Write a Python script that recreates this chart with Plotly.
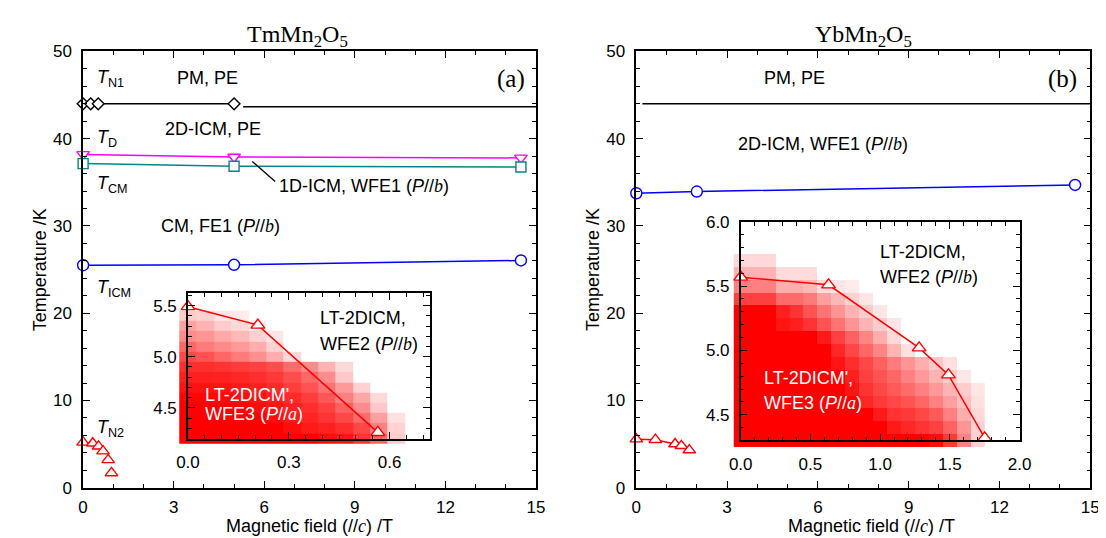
import plotly.graph_objects as go

W, H = 1106, 538

# ---------------- data ----------------
# TmMn2O5 main panel
tm_tn1_field = [0.0, 0.25, 0.5, 5.0]
tm_tn1_temp = [44.0, 44.0, 44.0, 44.0]
tm_tn1_high_field = [5.3, 15.0]
tm_tn1_high_temp = [43.65, 43.65]
tm_td_field = [0.0, 5.0, 14.5]
tm_td_temp = [38.2, 37.9, 37.8]
tm_tcm_field = [0.0, 5.0, 14.5]
tm_tcm_temp = [37.15, 36.85, 36.75]
tm_ticm_field = [0.0, 5.0, 14.5]
tm_ticm_temp = [25.5, 25.55, 26.05]
tm_tn2_field = [0.0, 0.32, 0.51, 0.66, 0.83, 0.94]
tm_tn2_temp = [5.2, 5.1, 4.75, 4.2, 3.2, 1.7]

# TmMn2O5 inset
tm_in_field = [0.0, 0.208, 0.565]
tm_in_temp = [5.49, 5.31, 4.26]
tm_map_field = [0.0, 0.052, 0.103, 0.155, 0.207, 0.258, 0.31, 0.362, 0.413, 0.465, 0.517, 0.568, 0.62]
tm_map_temp = [4.2, 4.3, 4.4, 4.5, 4.6, 4.7, 4.8, 4.9, 5.0, 5.1, 5.2, 5.3, 5.4]
N = None
tm_map_level = [
    [1.0, 1.0, 1.0, 1.0, 1.0, 1.0, 1.0, 1.0, 0.95, 0.92, 0.8, 0.6, 0.2],
    [1.0, 1.0, 1.0, 1.0, 1.0, 1.0, 0.95, 0.9, 0.87, 0.82, 0.72, 0.5, 0.18],
    [1.0, 1.0, 1.0, 1.0, 1.0, 0.95, 0.9, 0.86, 0.8, 0.72, 0.58, 0.38, 0.12],
    [1.0, 1.0, 1.0, 1.0, 0.95, 0.92, 0.87, 0.82, 0.75, 0.62, 0.45, 0.22, N],
    [0.98, 0.98, 0.97, 0.95, 0.92, 0.88, 0.83, 0.76, 0.66, 0.5, 0.35, 0.15, N],
    [0.93, 0.93, 0.92, 0.9, 0.87, 0.83, 0.76, 0.68, 0.55, 0.4, 0.18, N, N],
    [0.88, 0.88, 0.87, 0.85, 0.82, 0.78, 0.7, 0.6, 0.45, 0.22, N, N, N],
    [0.82, 0.82, 0.8, 0.77, 0.75, 0.7, 0.58, 0.45, 0.3, 0.15, N, N, N],
    [0.72, 0.68, 0.6, 0.52, 0.44, 0.32, 0.15, N, N, N, N, N, N],
    [0.6, 0.52, 0.46, 0.4, 0.32, 0.18, N, N, N, N, N, N, N],
    [0.45, 0.42, 0.34, 0.28, 0.18, 0.1, N, N, N, N, N, N, N],
    [0.37, 0.3, 0.2, 0.15, 0.08, N, N, N, N, N, N, N, N],
    [0.2, 0.18, 0.1, 0.08, N, N, N, N, N, N, N, N, N],
]

# YbMn2O5 main panel
yb_tn1_field = [0.2, 15.0]
yb_tn1_temp = [44.0, 44.0]
yb_ticm_field = [0.0, 2.0, 14.5]
yb_ticm_temp = [33.75, 33.95, 34.7]
yb_tn2_field = [0.0, 0.63, 1.28, 1.49, 1.75]
yb_tn2_temp = [5.57, 5.51, 5.02, 4.81, 4.32]

# YbMn2O5 inset
yb_map_field = [0.0, 0.1, 0.2, 0.3, 0.4, 0.5, 0.6, 0.7, 0.8, 0.9, 1.0, 1.1, 1.2, 1.3, 1.4, 1.5, 1.6, 1.7]
yb_map_temp = [4.3, 4.4, 4.5, 4.6, 4.7, 4.8, 4.9, 5.0, 5.1, 5.2, 5.3, 5.4, 5.5, 5.6, 5.7]
yb_map_level = [
    [1, 1, 1, 1, 1, 1, 1, 1, 1, 1, 1, 1, 1, 1, 0.95, 0.78, 0.5, 0.18],
    [1, 1, 1, 1, 1, 1, 1, 1, 1, 1, 1, 0.9, 0.85, 0.8, 0.75, 0.62, 0.42, 0.18],
    [1, 1, 1, 1, 1, 1, 1, 1, 1, 1, 0.9, 0.8, 0.78, 0.72, 0.65, 0.5, 0.32, 0.15],
    [1, 1, 1, 1, 1, 1, 1, 1, 1, 0.85, 0.78, 0.72, 0.68, 0.6, 0.5, 0.38, 0.25, 0.12],
    [1, 1, 1, 1, 1, 1, 1, 1, 0.92, 0.8, 0.72, 0.65, 0.58, 0.5, 0.4, 0.3, 0.2, 0.1],
    [1, 1, 1, 1, 1, 1, 1, 1, 0.88, 0.75, 0.68, 0.6, 0.5, 0.4, 0.3, 0.2, 0.1, N],
    [1, 1, 1, 1, 1, 1, 1, 0.92, 0.82, 0.72, 0.62, 0.52, 0.42, 0.32, 0.22, 0.12, N, N],
    [1, 1, 1, 1, 1, 1, 1, 0.85, 0.72, 0.6, 0.48, 0.3, 0.12, N, N, N, N, N],
    [1, 1, 1, 1, 1, 1, 0.9, 0.75, 0.62, 0.48, 0.32, 0.15, N, N, N, N, N, N],
    [1, 1, 1, 0.92, 0.88, 0.8, 0.68, 0.55, 0.42, 0.3, 0.2, 0.1, N, N, N, N, N, N],
    [1, 1, 1, 0.88, 0.8, 0.68, 0.55, 0.42, 0.3, 0.2, 0.1, N, N, N, N, N, N, N],
    [0.75, 0.75, 0.75, 0.58, 0.58, 0.52, 0.38, 0.28, 0.18, 0.1, N, N, N, N, N, N, N, N],
    [0.5, 0.5, 0.5, 0.32, 0.32, 0.28, 0.14, 0.1, 0.08, N, N, N, N, N, N, N, N, N],
    [0.3, 0.3, 0.3, 0.14, 0.14, 0.14, N, N, N, N, N, N, N, N, N, N, N, N],
    [0.15, 0.15, 0.15, N, N, N, N, N, N, N, N, N, N, N, N, N, N, N],
]

# leader line of the "1D-ICM" label (field, temperature)
leader_field = [5.6, 6.36]
leader_temp = [37.4, 35.1]

# ---------------- helpers ----------------
def fx(p):
    return p / W

def fy(p):
    return 1 - p / H

SANS = "Liberation Sans"
SERIF = "Liberation Serif"
BLACK = "black"
TEAL = "#00868B"
MAGENTA = "#FF00FF"
BLUE = "#0000FF"
RED = "#FF0000"

fig = go.Figure()

def add_scatter(x, y, color, symbol, size, xa, ya, mode="lines+markers", lw=1.5):
    fig.add_trace(go.Scatter(
        x=x, y=y, mode=mode, xaxis=xa, yaxis=ya, cliponaxis=False,
        line=dict(color=color, width=lw),
        marker=dict(symbol=symbol, size=size, color="white",
                    line=dict(color=color, width=1.4)),
        showlegend=False, hoverinfo="skip"))

# heatmaps first (hidden axes, slightly larger than the inset frames)
scale = [[0, "#FFFFFF"], [1, "#FF0000"]]
fig.add_trace(go.Heatmap(x=tm_map_field, y=tm_map_temp, z=tm_map_level,
                         colorscale=scale, zmin=0, zmax=1, showscale=False,
                         xaxis="x3", yaxis="y3", hoverinfo="skip"))
fig.add_trace(go.Heatmap(x=yb_map_field, y=yb_map_temp, z=yb_map_level,
                         colorscale=scale, zmin=0, zmax=1, showscale=False,
                         xaxis="x4", yaxis="y4", hoverinfo="skip"))

# left main
add_scatter(tm_tn1_field, tm_tn1_temp, BLACK, "diamond", 9, "x", "y")
add_scatter(tm_tn1_high_field, tm_tn1_high_temp, BLACK, "circle", 1, "x", "y", mode="lines")
add_scatter(tm_td_field, tm_td_temp, MAGENTA, "triangle-down", 11, "x", "y")
add_scatter(tm_tcm_field, tm_tcm_temp, TEAL, "square", 10, "x", "y")
add_scatter(tm_ticm_field, tm_ticm_temp, BLUE, "circle", 11, "x", "y")
add_scatter(tm_tn2_field, tm_tn2_temp, RED, "triangle-up", 11, "x", "y", mode="markers")
add_scatter(leader_field, leader_temp, BLACK, "circle", 1, "x", "y", mode="lines", lw=1.3)

# right main
add_scatter(yb_tn1_field, yb_tn1_temp, BLACK, "circle", 1, "x2", "y2", mode="lines")
add_scatter(yb_ticm_field, yb_ticm_temp, BLUE, "circle", 11, "x2", "y2")
add_scatter(yb_tn2_field, yb_tn2_temp, RED, "triangle-up", 11, "x2", "y2")

# insets
add_scatter(tm_in_field, tm_in_temp, RED, "triangle-up", 12, "x5", "y5")
add_scatter(yb_tn2_field, yb_tn2_temp, RED, "triangle-up", 12, "x6", "y6")

# ---------------- axes ----------------
tickfont = dict(family=SANS, size=17, color=BLACK)

def axis(domain, rng, dtick, minor, anchor, fmt=None, standoff=4):
    d = dict(domain=domain, range=rng, dtick=dtick, tick0=0, anchor=anchor,
             showline=True, linecolor=BLACK, linewidth=1.5, mirror="allticks",
             ticks="inside", ticklen=7, tickwidth=1.2, tickcolor=BLACK,
             minor=dict(dtick=minor, ticks="inside", ticklen=4, tickwidth=1.2, tickcolor=BLACK),
             showgrid=False, zeroline=False, tickfont=tickfont,
             ticklabelstandoff=standoff, fixedrange=True)
    if fmt:
        d["tickformat"] = fmt
    return d

main_y = [fy(488), fy(35.7)]
left_x = [fx(64.5), fx(527.5)]
right_x = [fx(630), fx(1094)]

# inset frames (pixels)
L_x0, L_x1, L_y0, L_y1 = 171.7, 419.0, 286.5, 437.0
L_xr, L_yr = [0.0, 0.72], [4.2, 5.62]
R_x0, R_x1, R_y0, R_y1 = 736.7, 1021.7, 212.3, 439.0
R_xr, R_yr = [0.0, 2.0001], [4.3, 6.0001]

def extend(p_lo_new, p_lo, p_hi, r):
    per = (p_hi - p_lo) / (r[1] - r[0])
    return r[0] - (p_lo - p_lo_new) / per

hx3_lo = extend(160.0, L_x0, L_x1, L_xr)
hy3_lo = L_yr[0] - (446.0 - L_y1) * (L_yr[1] - L_yr[0]) / (L_y1 - L_y0)
hx4_lo = extend(725.0, R_x0, R_x1, R_xr)
hy4_lo = R_yr[0] - (448.0 - R_y1) * (R_yr[1] - R_yr[0]) / (R_y1 - R_y0)

hidden = dict(visible=False, showgrid=False, zeroline=False, fixedrange=True)

fig.update_layout(
    width=W, height=H,
    margin=dict(l=0, r=0, t=0, b=0),
    paper_bgcolor="white", plot_bgcolor="rgba(0,0,0,0)",
    xaxis=axis(left_x, [0, 15.001], 3, 1, "y", standoff=3),
    yaxis=axis(main_y, [0, 50.001], 10, 2, "x", standoff=6),
    xaxis2=axis(right_x, [0, 15.001], 3, 1, "y2", standoff=3),
    yaxis2=axis(main_y, [0, 50.001], 10, 2, "x2", standoff=6),
    xaxis3=dict(hidden, domain=[fx(160.0), fx(L_x1)], range=[hx3_lo, L_xr[1]], anchor="y3"),
    yaxis3=dict(hidden, domain=[fy(446.0), fy(L_y0)], range=[hy3_lo, L_yr[1]], anchor="x3"),
    xaxis4=dict(hidden, domain=[fx(725.0), fx(R_x1)], range=[hx4_lo, R_xr[1]], anchor="y4"),
    yaxis4=dict(hidden, domain=[fy(448.0), fy(R_y0)], range=[hy4_lo, R_yr[1]], anchor="x4"),
    xaxis5=axis([fx(L_x0), fx(L_x1)], L_xr, 0.3, 0.05, "y5", ".1f", standoff=7),
    yaxis5=axis([fy(L_y1), fy(L_y0)], L_yr, 0.5, 0.1, "x5", ".1f", standoff=6),
    xaxis6=axis([fx(R_x0), fx(R_x1)], R_xr, 0.5, 0.1, "y6", ".1f", standoff=7),
    yaxis6=axis([fy(R_y1), fy(R_y0)], R_yr, 0.5, 0.1, "x6", ".1f", standoff=6),
)

# ---------------- text ----------------
ann = []

def text(t, x, y, size=18, xanchor="center", yanchor="middle", color=BLACK, family=SANS, angle=0):
    ann.append(dict(text=t, x=fx(x), y=fy(y), xref="paper", yref="paper",
                    showarrow=False, xanchor=xanchor, yanchor=yanchor, textangle=angle,
                    font=dict(family=family, size=size, color=color)))

ib = "<i><span style='font-family:Liberation Serif'>b</span></i>"
ia = "<i><span style='font-family:Liberation Serif'>a</span></i>"
ic = "<i><span style='font-family:Liberation Serif'>c</span></i>"

# titles
text("TmMn<sub>2</sub>O<sub>5</sub>", 284, 20, size=24, family=SERIF)
text("YbMn<sub>2</sub>O<sub>5</sub>", 862, 20, size=24, family=SERIF)
text("(a)", 502, 64, size=25, family=SERIF)
text("(b)", 1066, 64, size=25, family=SERIF)

# axis titles
text("Magnetic field (//" + ic + ") /T", 296, 528, size=18)
text("Magnetic field (//" + ic + ") /T", 870, 528, size=18)
text("Temperature /K", 20, 262, size=18, angle=-90)
text("Temperature /K", 585, 262, size=18, angle=-90)

# left panel labels
text("<i>T</i><sub>N1</sub>", 77, 64, xanchor="left")
text("<i>T</i><sub>D</sub>", 77, 126, xanchor="left")
text("<i>T</i><sub>CM</sub>", 77, 174, xanchor="left")
text("<i>T</i><sub>ICM</sub>", 77, 281, xanchor="left")
text("<i>T</i><sub>N2</sub>", 77, 427, xanchor="left")
text("PM, PE", 192, 63)
text("2D-ICM, PE", 197, 116)
text("1D-ICM, WFE1 (<i>P</i>//" + ib + ")", 263, 175, xanchor="left")
text("CM, FE1 (<i>P</i>//" + ib + ")", 142, 217, xanchor="left")
text("LT-2DICM,", 305, 312, xanchor="left")
text("WFE2 (<i>P</i>//" + ib + ")", 305, 339, xanchor="left")
text("LT-2DICM',", 187, 392, xanchor="left", color="white")
text("WFE3 (<i>P</i>//" + ia + ")", 187, 412, xanchor="left", color="white")

# right panel labels
text("PM, PE", 792, 63)
text("2D-ICM, WFE1 (<i>P</i>//" + ib + ")", 732, 132, xanchor="left")
text("LT-2DICM,", 877, 244, xanchor="left")
text("WFE2 (<i>P</i>//" + ib + ")", 877, 270, xanchor="left")
text("LT-2DICM',", 758, 374, xanchor="left", color="white")
text("WFE3 (<i>P</i>//" + ia + ")", 758, 400, xanchor="left", color="white")

fig.update_layout(annotations=ann)

fig.write_html("out.html", config={"displayModeBar": False})
